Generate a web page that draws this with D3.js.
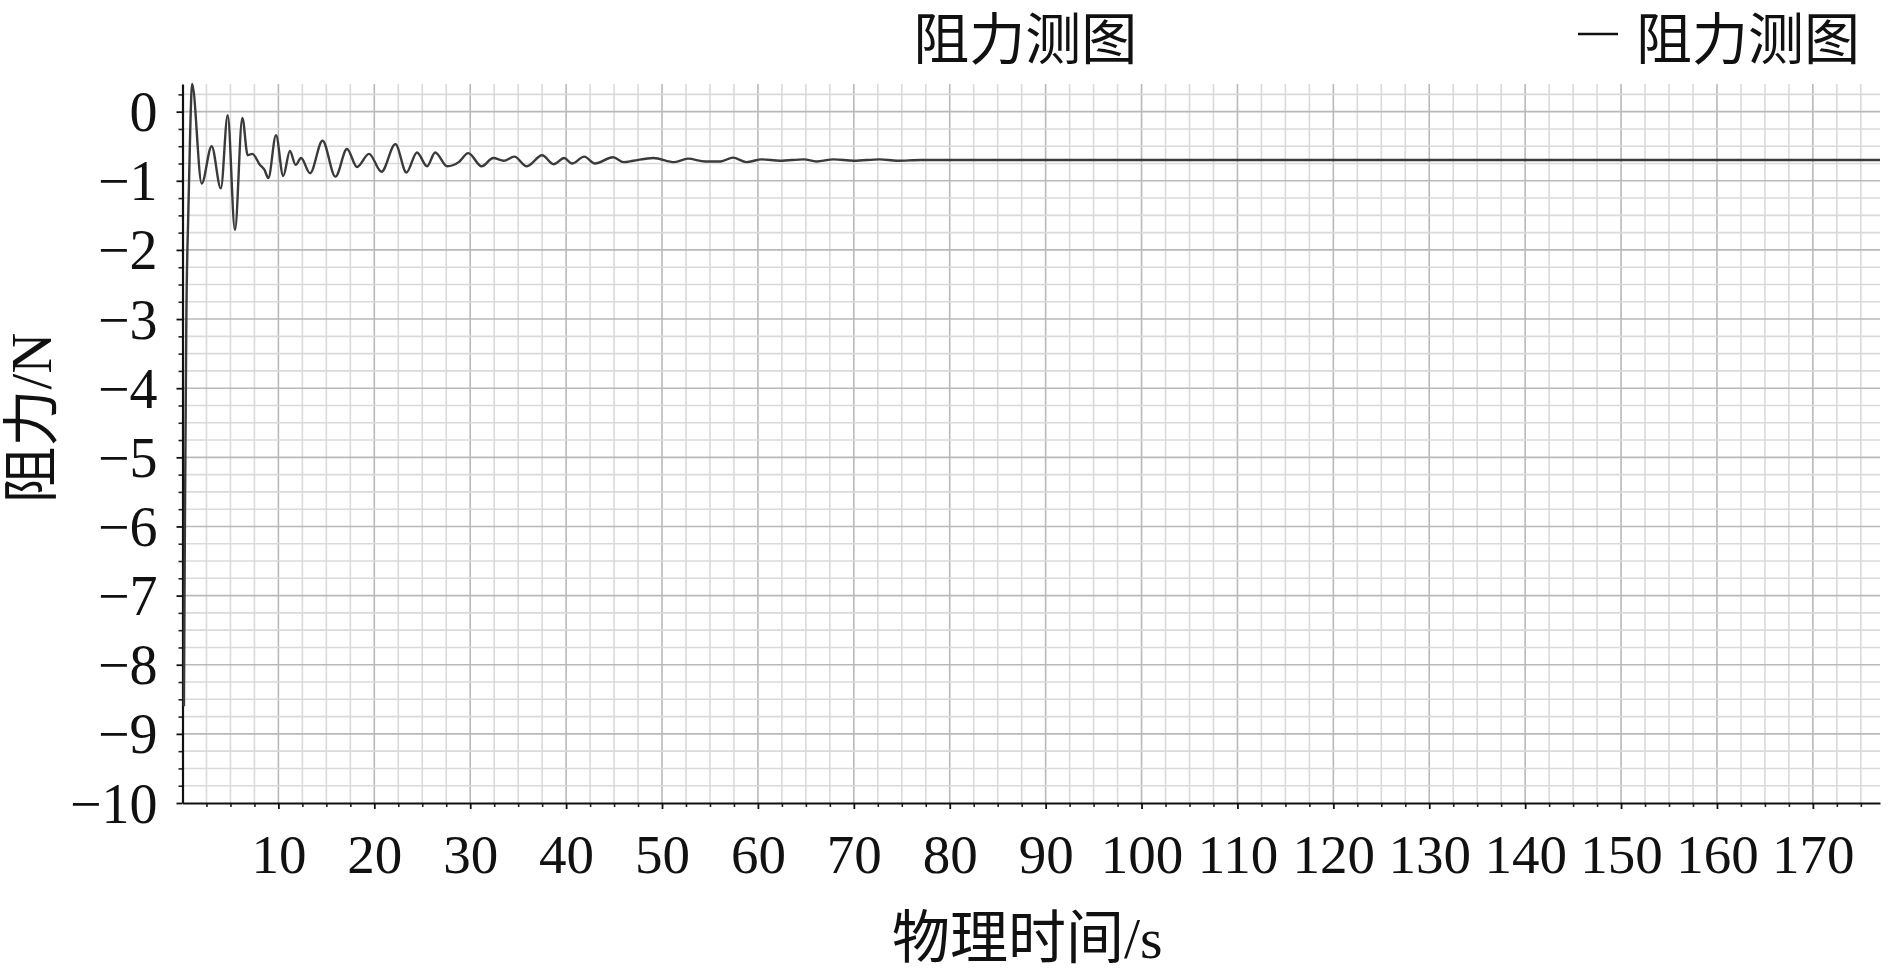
<!DOCTYPE html>
<html>
<head>
<meta charset="utf-8">
<script src="https://cdn.jsdelivr.net/npm/d3@7"></script>
<style>
  body { margin: 0; background: #fff; }
  svg { display: block; }
</style>
</head>
<body>
<div class="chart"></div>
<script>
// time (s) and drag force (N)
var time = [0.15, 0.25, 0.4, 0.6, 0.8, 1.0, 2.0, 3.04, 4.0, 4.71,
  5.47, 6.24, 6.8, 7.28, 8.08, 8.54, 8.95, 9.75, 10.5, 11.2,
  11.8, 12.36, 13.3, 14.6, 15.95, 17.15, 18.2, 19.45, 20.75, 22.2,
  23.35, 24.45, 25.5, 26.35, 27.6, 28.8, 29.8, 31.2, 32.4, 33.5,
  34.6, 35.9, 37.5, 38.7, 39.8, 40.6, 41.9, 43.0, 44.9, 46.0,
  47.0, 49.1, 51.3, 52.7, 54.5, 56.1, 57.4, 58.8, 60.4, 62.3,
  64.8, 66.1, 67.9, 70, 72.7, 74.5, 77, 80, 100, 120,
  140, 160, 177];
var force = [-8.6, -6.0, -3.0, -1.5, -0.3, 0.4, -1.04, -0.50, -1.11, -0.05,
  -1.71, -0.09, -0.63, -0.61, -0.77, -0.84, -0.96, -0.34, -0.93, -0.57,
  -0.77, -0.67, -0.89, -0.42, -0.94, -0.54, -0.80, -0.61, -0.87, -0.47,
  -0.88, -0.59, -0.79, -0.59, -0.79, -0.73, -0.60, -0.79, -0.67, -0.71,
  -0.65, -0.79, -0.63, -0.76, -0.67, -0.75, -0.65, -0.75, -0.66, -0.73,
  -0.71, -0.67, -0.73, -0.68, -0.72, -0.72, -0.665, -0.73, -0.69, -0.71,
  -0.69, -0.72, -0.69, -0.71, -0.69, -0.71, -0.70, -0.70, -0.70, -0.70,
  -0.70, -0.70, -0.70];

// axis ticks
var xTicks = [10, 20, 30, 40, 50, 60, 70, 80, 90, 100, 110, 120, 130, 140, 150, 160, 170];
var yTicks = [0, -1, -2, -3, -4, -5, -6, -7, -8, -9, -10];

var titleText = "阻力测图";
var legendText = "阻力测图";
var xLabel = "物理时间/s";
var yLabel = "阻力/N";

const W = 1890, H = 970;
const margin = { left: 182.5, top: 84, right: 10, bottom: 167 };
const width = W - margin.left - margin.right,
  height = H - margin.top - margin.bottom;

const latin = "'Liberation Serif', 'Noto Sans CJK SC', serif";

var svg = d3.select(".chart").append("svg")
  .attr("width", W)
  .attr("height", H);

var g = svg.append("g")
  .attr("transform", "translate(" + margin.left + "," + margin.top + ")");

const x = d3.scaleLinear().domain([0, 177]).range([0, width]);
const y = d3.scaleLinear().domain([-10, 0.4]).range([height, 0]);

//grid, minor every 2.5 s / 0.25 N, major every 10 s / 1 N
var xGrid = d3.range(2.5, 177.01, 2.5);
var yGrid = d3.range(-9.75, 0.41, 0.25);

g.append("g")
  .selectAll("line")
  .data(xGrid)
  .join("line")
  .attr("x1", (d) => x(d))
  .attr("x2", (d) => x(d))
  .attr("y1", 0)
  .attr("y2", height)
  .attr("stroke", (d) => (Math.abs(d % 10) < 1e-6 ? "#b9b9b9" : "#dadada"))
  .attr("stroke-width", 1.6);

g.append("g")
  .selectAll("line")
  .data(yGrid)
  .join("line")
  .attr("x1", 0)
  .attr("x2", width)
  .attr("y1", (d) => y(d))
  .attr("y2", (d) => y(d))
  .attr("stroke", (d) => (Math.abs(d - Math.round(d)) < 1e-6 ? "#b9b9b9" : "#dadada"))
  .attr("stroke-width", 1.6);

//minor ticks
g.append("g")
  .attr("transform", "translate(0," + height + ")")
  .call(d3.axisBottom(x).tickValues(xGrid.filter((d) => d % 10 !== 0)).tickSize(4).tickFormat(""))
  .call((a) => a.select(".domain").remove())
  .call((a) => a.selectAll("line").attr("stroke", "#222").attr("stroke-width", 1.6));

g.append("g")
  .call(d3.axisLeft(y).tickValues(yGrid.filter((d) => Math.abs(d - Math.round(d)) > 1e-6)).tickSize(4).tickFormat(""))
  .call((a) => a.select(".domain").remove())
  .call((a) => a.selectAll("line").attr("stroke", "#222").attr("stroke-width", 1.6));

//major axes
var xAxis = g.append("g")
  .attr("transform", "translate(0," + height + ")")
  .call(d3.axisBottom(x).tickValues(xTicks).tickSize(6).tickSizeOuter(0));
xAxis.select(".domain").attr("stroke", "#111").attr("stroke-width", 2.2);
xAxis.selectAll("line").attr("stroke", "#111").attr("stroke-width", 1.8);
xAxis.selectAll("text")
  .attr("dy", null)
  .attr("y", 70)
  .attr("fill", "#111")
  .style("font-family", latin)
  .style("font-size", "55px");

var yAxis = g.append("g")
  .call(d3.axisLeft(y).tickValues(yTicks).tickSize(6).tickSizeOuter(0).tickPadding(19));
yAxis.select(".domain").attr("stroke", "#111").attr("stroke-width", 2.2);
yAxis.selectAll("line").attr("stroke", "#111").attr("stroke-width", 1.8);
yAxis.selectAll("text")
  .attr("dy", "0.34em")
  .attr("fill", "#111")
  .style("font-family", latin)
  .style("font-size", "56px");

//curve
var points = time.map((t, i) => ({ t: t, f: force[i] }));
g.append("path")
  .datum(points)
  .attr("fill", "none")
  .attr("stroke", "#3a3a3a")
  .attr("stroke-width", 2.4)
  .attr("stroke-linejoin", "round")
  .attr("d", d3.line()
    .x((d) => x(d.t))
    .y((d) => y(d.f))
    .curve(d3.curveMonotoneX));

//title
svg.append("text")
  .attr("x", margin.left + width / 2 - 6)
  .attr("y", 59)
  .attr("text-anchor", "middle")
  .attr("fill", "#111")
  .style("font-family", latin)
  .style("font-size", "56px")
  .text(titleText);

//legend
svg.append("line")
  .attr("x1", 1578)
  .attr("x2", 1618)
  .attr("y1", 34)
  .attr("y2", 34)
  .attr("stroke", "#111")
  .attr("stroke-width", 2.4);
svg.append("text")
  .attr("x", 1636)
  .attr("y", 59)
  .attr("fill", "#111")
  .style("font-family", latin)
  .style("font-size", "56px")
  .text(legendText);

//axis titles
svg.append("text")
  .attr("x", margin.left + width / 2 - 4)
  .attr("y", 958)
  .attr("text-anchor", "middle")
  .attr("fill", "#111")
  .style("font-family", latin)
  .style("font-size", "58px")
  .text(xLabel);

svg.append("text")
  .attr("transform", "translate(51,418) rotate(-90)")
  .attr("text-anchor", "middle")
  .attr("fill", "#111")
  .style("font-family", latin)
  .style("font-size", "57px")
  .text(yLabel);
</script>
</body>
</html>
